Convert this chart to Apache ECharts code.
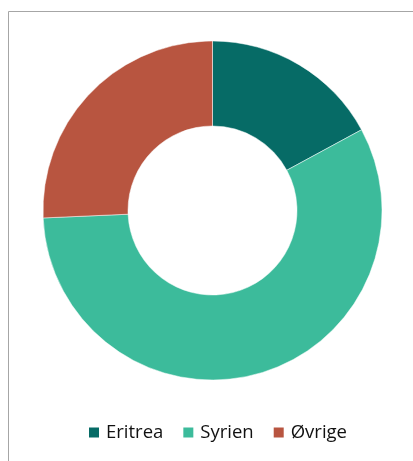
<!DOCTYPE html>
<html>
<head>
<meta charset="utf-8">
<script src="https://cdn.jsdelivr.net/npm/echarts@6/dist/echarts.min.js"></script>
<style>
  html, body { margin: 0; padding: 0; background: #fff; }
  #chart { width: 413px; height: 461px; }
</style>
</head>
<body>
<div id="chart"></div>
<script>
// andeler (%) lest av figuren
var categories = ['Eritrea', 'Syrien', 'Øvrige'];
var values = [17.1, 57.2, 25.7];
var colors = ['#066b66', '#3cbb9b', '#b85540'];

var chart = echarts.init(document.getElementById('chart'));

var option = {
	animation: false,
	backgroundColor: '#ffffff',
	color: colors,
	graphic: [{
		type: 'rect',
		shape: { x: 8.5, y: 11.5, width: 420, height: 470 },
		style: { fill: 'none', stroke: '#a6a6a6', lineWidth: 1 },
		silent: true
	}],
	legend: {
		data: categories,
		left: 82,
		top: 418,
		icon: 'rect',
		itemWidth: 12,
		itemHeight: 12,
		itemGap: 18,
		textStyle: {
			fontFamily: 'Open Sans',
			fontSize: 18.5,
			color: '#111111',
			padding: [0, 0, 0, 1]
		}
	},
	series: [{
		name: 'Land',
		type: 'pie',
		center: [212.5, 210.5],
		radius: [84.5, 169.5],
		startAngle: 90,
		clockwise: true,
		label: { show: false },
		labelLine: { show: false },
		itemStyle: {
			borderColor: '#ffffff',
			borderWidth: 0.5
		},
		data: categories.map(function (c, i) {
			return { name: c, value: values[i] };
		})
	}]
};

chart.setOption(option);
</script>
</body>
</html>
